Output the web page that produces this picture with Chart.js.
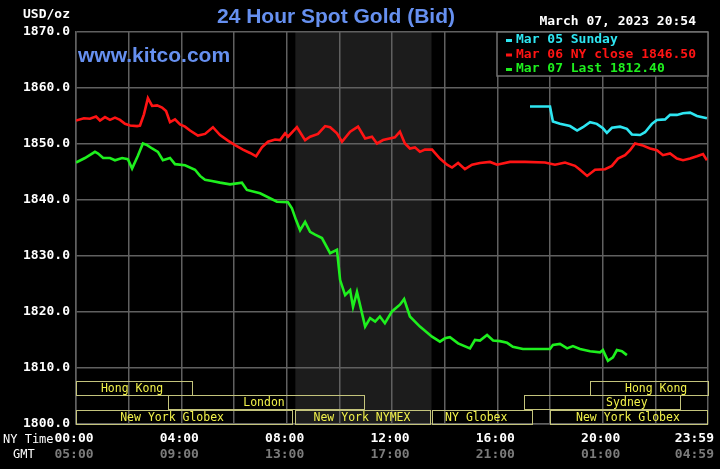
<!DOCTYPE html>
<html>
<head>
<meta charset="utf-8">
<title>24 Hour Spot Gold (Bid)</title>
<script src="https://cdn.jsdelivr.net/npm/chart.js@4.4.1/dist/chart.umd.min.js"></script>
<style>
  html, body { margin: 0; padding: 0; background: #000; }
  canvas { display: block; }
</style>
</head>
<body>
<canvas id="goldChart" width="720" height="469"></canvas>
<script>
// hours are NY time (0 = 00:00, 24 = 23:59), values in USD/oz
const mar05Hours = [17.24, 18.00, 18.11, 18.38, 18.76, 19.03, 19.25, 19.52, 19.78, 20.01, 20.16, 20.35, 20.66, 20.92,
  21.11, 21.42, 21.61, 21.87, 22.06, 22.37, 22.56, 22.82, 23.05, 23.32, 23.58, 23.96];
const mar05Values = [1856.7, 1856.7, 1854.0, 1853.6, 1853.2, 1852.4, 1853.0, 1853.9, 1853.6, 1852.8, 1852.0, 1852.9, 1853.1, 1852.7,
  1851.7, 1851.6, 1852.1, 1853.6, 1854.3, 1854.4, 1855.2, 1855.2, 1855.5, 1855.6, 1855.0, 1854.6];

const mar06Hours = [0.00, 0.30, 0.53, 0.76, 0.91, 1.10, 1.29, 1.48, 1.67, 1.86, 2.05, 2.32, 2.43, 2.58, 2.73, 2.89, 3.08, 3.27,
  3.42, 3.57, 3.76, 3.95, 4.14, 4.33, 4.63, 4.90, 5.20, 5.47, 5.77, 6.04, 6.34, 6.61, 6.84, 7.06, 7.29, 7.56, 7.75, 7.94,
  8.05, 8.39, 8.70, 8.89, 9.19, 9.46, 9.65, 9.91, 10.10, 10.41, 10.71, 10.98, 11.24, 11.43, 11.66, 12.11, 12.30, 12.49,
  12.68, 12.87, 13.06, 13.25, 13.52, 13.82, 14.09, 14.28, 14.51, 14.77, 15.04, 15.34, 15.72, 15.99, 16.48, 17.05, 17.81,
  18.19, 18.57, 18.95, 19.14, 19.41, 19.71, 20.09, 20.35, 20.58, 20.85, 21.04, 21.23, 21.49, 21.80, 22.06, 22.29, 22.56,
  22.82, 23.05, 23.32, 23.58, 23.81, 23.96];
const mar06Values = [1854.2, 1854.6, 1854.5, 1854.9, 1854.2, 1854.8, 1854.3, 1854.7, 1854.3, 1853.6, 1853.3, 1853.2, 1853.3,
  1855.3, 1858.2, 1856.8, 1856.9, 1856.5, 1855.9, 1853.9, 1854.4, 1853.5, 1853.1, 1852.4, 1851.5, 1851.8, 1853.0, 1851.6,
  1850.6, 1849.8, 1849.0, 1848.4, 1847.8, 1849.4, 1850.4, 1850.8, 1850.7, 1851.9, 1851.3, 1853.0, 1850.7, 1851.3, 1851.8,
  1853.2, 1853.0, 1851.9, 1850.4, 1852.2, 1853.1, 1851.0, 1851.3, 1850.1, 1850.7, 1851.2, 1852.2, 1850.1, 1849.2, 1849.4,
  1848.6, 1849.0, 1849.0, 1847.4, 1846.3, 1845.8, 1846.6, 1845.5, 1846.3, 1846.6, 1846.8, 1846.3, 1846.8, 1846.8, 1846.7,
  1846.3, 1846.7, 1846.1, 1845.4, 1844.3, 1845.4, 1845.5, 1846.1, 1847.4, 1848.0, 1848.9, 1850.1, 1849.8, 1849.2, 1848.9,
  1848.0, 1848.3, 1847.4, 1847.1, 1847.4, 1847.8, 1848.2, 1847.1];

const mar07Hours = [0.00, 0.34, 0.72, 0.84, 1.03, 1.29, 1.48, 1.75, 1.97, 2.13, 2.35, 2.54, 2.70, 2.89, 3.11, 3.30, 3.57, 3.76,
  4.14, 4.52, 4.71, 4.90, 5.16, 5.47, 5.85, 6.30, 6.49, 6.99, 7.63, 8.05, 8.20, 8.35, 8.51, 8.70, 8.89, 9.08, 9.34, 9.65,
  9.91, 10.03, 10.22, 10.41, 10.52, 10.67, 10.98, 11.17, 11.36, 11.54, 11.73, 12.00, 12.30, 12.46, 12.68, 13.06, 13.52,
  13.82, 14.01, 14.20, 14.51, 14.96, 15.15, 15.34, 15.61, 15.84, 16.10, 16.37, 16.59, 16.97, 18.00, 18.11, 18.38, 18.65,
  18.87, 19.14, 19.52, 19.90, 20.01, 20.20, 20.39, 20.54, 20.73, 20.92];
const mar07Values = [1846.7, 1847.5, 1848.6, 1848.3, 1847.5, 1847.5, 1847.1, 1847.5, 1847.3, 1845.6, 1847.9, 1850.1, 1849.8,
  1849.2, 1848.6, 1847.1, 1847.5, 1846.4, 1846.2, 1845.4, 1844.3, 1843.6, 1843.4, 1843.1, 1842.8, 1843.1, 1841.8, 1841.2,
  1839.7, 1839.6, 1838.5, 1836.5, 1834.6, 1836.1, 1834.3, 1833.8, 1833.2, 1830.5, 1831.1, 1825.7, 1823.0, 1823.9, 1820.9,
  1823.6, 1817.4, 1818.9, 1818.3, 1819.2, 1818.0, 1820.1, 1821.3, 1822.3, 1819.2, 1817.4, 1815.6, 1814.7, 1815.3, 1815.5,
  1814.4, 1813.5, 1815.0, 1814.9, 1815.9, 1814.9, 1814.8, 1814.5, 1813.8, 1813.4, 1813.4, 1814.1, 1814.3, 1813.5, 1813.9,
  1813.4, 1813.0, 1812.8, 1813.2, 1811.3, 1811.9, 1813.2, 1813.0, 1812.3];

const seriesNames = ["Mar 05 Sunday", "Mar 06 NY close 1846.50", "Mar 07 Last 1812.40"];

// x axis labels (NY time on top, GMT below)
const labelHours = [0, 4, 8, 12, 16, 20, 24];
const nyTimeLabels = ["00:00", "04:00", "08:00", "12:00", "16:00", "20:00", "23:59"];
const gmtTimeLabels = ["05:00", "09:00", "13:00", "17:00", "21:00", "01:00", "04:59"];

// market sessions shown in the bottom band (row 0 = top)
const sessionNames = ["Hong Kong", "London", "New York Globex", "New York NYMEX", "NY Globex", "New York Globex", "Sydney", "Hong Kong"];
const sessionStart = [0, 3.5, 0, 8.33, 13.5, 18.0, 17.0, 19.5];
const sessionEnd = [4.45, 10.98, 8.25, 13.5, 17.35, 24, 22.97, 24];
const sessionRow = [0, 1, 2, 2, 2, 2, 1, 0];
const sessionLabelAt = [2.13, 7.14, 3.65, 10.86, 15.2, 20.96, 20.92, 22.03];

// NYMEX pit hours get the darker band
const pitStart = 8.33;
const pitEnd = 13.5;

const MONO = '"DejaVu Sans Mono", "Liberation Mono", monospace';
const BOX_LINE = "#c4c47c";
const BOX_TEXT = "#f2f24a";

function toPoints(hours, values) {
  return hours.map((h, i) => ({ x: h, y: values[i] }));
}

const kitcoDecor = {
  id: "kitcoDecor",
  beforeDraw(chart) {
    const { ctx, chartArea, scales } = chart;
    ctx.save();
    ctx.fillStyle = "#000";
    ctx.fillRect(0, 0, chart.width, chart.height);
    const x1 = scales.x.getPixelForValue(pitStart);
    const x2 = scales.x.getPixelForValue(pitEnd);
    ctx.fillStyle = "#1c1c1c";
    ctx.fillRect(x1, chartArea.top, x2 - x1, chartArea.bottom - chartArea.top);
    ctx.restore();
  },
  beforeDatasetsDraw(chart) {
    const { ctx, chartArea, scales } = chart;
    const rowH = 14.4;
    const bandTop = chartArea.bottom - rowH * 3;
    ctx.save();
    ctx.lineWidth = 1;
    ctx.font = "11.5px " + MONO;
    ctx.textAlign = "center";
    ctx.textBaseline = "middle";
    sessionNames.forEach((name, i) => {
      const xa = scales.x.getPixelForValue(sessionStart[i]);
      const xb = scales.x.getPixelForValue(sessionEnd[i]);
      const y = bandTop + sessionRow[i] * rowH;
      ctx.strokeStyle = BOX_LINE;
      ctx.strokeRect(Math.round(xa) + 0.5, Math.round(y) + 0.5, Math.round(xb - xa) - 1, Math.round(rowH));
      ctx.fillStyle = BOX_TEXT;
      ctx.fillText(name, scales.x.getPixelForValue(sessionLabelAt[i]), y + rowH / 2 + 1);
    });
    ctx.restore();
  },
  afterDraw(chart) {
    const { ctx, chartArea, scales } = chart;
    ctx.save();

    // legend box top right
    const lx = 497, ly = chartArea.top, lw = chartArea.right - lx, lh = 44;
    ctx.fillStyle = "#000";
    ctx.fillRect(lx, ly, lw, lh);
    ctx.strokeStyle = "#707070";
    ctx.lineWidth = 1.5;
    ctx.strokeRect(lx, ly, lw, lh);
    ctx.font = "bold 13px " + MONO;
    ctx.textAlign = "left";
    ctx.textBaseline = "middle";
    chart.data.datasets.forEach((ds, i) => {
      const y = ly + 8 + i * 14.5;
      ctx.fillStyle = ds.borderColor;
      ctx.fillRect(lx + 9, y - 1, 6, 3);
      ctx.fillText(ds.label, lx + 19, y);
    });

    // headings
    ctx.fillStyle = "#fff";
    ctx.font = "bold 13px " + MONO;
    ctx.textAlign = "left";
    ctx.fillText("USD/oz", 23, 15);
    ctx.textAlign = "right";
    ctx.fillText("March 07, 2023 20:54", 696, 22);

    ctx.fillStyle = "#6690f0";
    ctx.font = 'bold 21px "Liberation Sans", Arial, sans-serif';
    ctx.textAlign = "center";
    ctx.fillText("24 Hour Spot Gold (Bid)", 336, 17);
    ctx.textAlign = "left";
    ctx.fillText("www.kitco.com", 78, 56);

    // x axis: NY time and GMT rows
    ctx.font = "bold 13px " + MONO;
    ctx.textAlign = "center";
    labelHours.forEach((h, i) => {
      let x = scales.x.getPixelForValue(h) - 2;
      const w = ctx.measureText(nyTimeLabels[i]).width;
      x = Math.min(x, chart.width - 6 - w / 2);
      ctx.fillStyle = "#fff";
      ctx.fillText(nyTimeLabels[i], x, chartArea.bottom + 15);
      ctx.fillStyle = "#7c7c7c";
      ctx.fillText(gmtTimeLabels[i], x, chartArea.bottom + 31);
    });
    ctx.fillStyle = "#fff";
    ctx.font = "12px " + MONO;
    ctx.textAlign = "left";
    ctx.fillText("NY Time", 3, chartArea.bottom + 16);
    ctx.fillText("GMT", 13, chartArea.bottom + 31);
    ctx.restore();
  }
};

const ctx = document.getElementById("goldChart").getContext("2d");
new Chart(ctx, {
  type: "line",
  data: {
    datasets: [
      { label: seriesNames[0], data: toPoints(mar05Hours, mar05Values), borderColor: "#2ee6f2" },
      { label: seriesNames[1], data: toPoints(mar06Hours, mar06Values), borderColor: "#ff1414" },
      { label: seriesNames[2], data: toPoints(mar07Hours, mar07Values), borderColor: "#1ef01e" }
    ]
  },
  options: {
    responsive: false,
    animation: false,
    parsing: false,
    layout: { padding: { top: 32, right: 12, left: 0, bottom: 0 } },
    elements: {
      line: { borderWidth: 2.6, tension: 0 },
      point: { radius: 0 }
    },
    plugins: {
      legend: { display: false },
      title: { display: false },
      tooltip: { enabled: false }
    },
    scales: {
      x: {
        type: "linear",
        min: 0,
        max: 24,
        afterBuildTicks: scale => {
          scale.ticks = [];
          for (let h = 0; h <= 24; h += 2) scale.ticks.push({ value: h });
        },
        afterFit: scale => { scale.height = 45; },
        ticks: { display: false },
        grid: { color: "#606060", lineWidth: 1.5, drawTicks: false },
        border: { color: "#606060", width: 1.5 }
      },
      y: {
        min: 1800,
        max: 1870,
        afterFit: scale => { scale.width = 76; },
        ticks: {
          stepSize: 10,
          padding: 6,
          color: "#fff",
          font: { family: MONO, size: 13, weight: "bold" },
          callback: value => value.toFixed(1)
        },
        grid: { color: "#606060", lineWidth: 1.5, drawTicks: false },
        border: { color: "#606060", width: 1.5 }
      }
    }
  },
  plugins: [kitcoDecor]
});
</script>
</body>
</html>
